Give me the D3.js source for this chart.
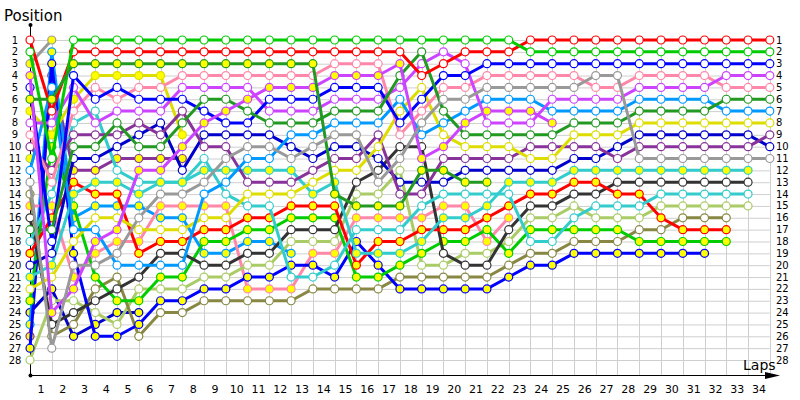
<!DOCTYPE html>
<html><head><meta charset="utf-8">
<script src="https://cdn.jsdelivr.net/npm/d3@7"></script>
<style>body{margin:0;background:#fff}svg{display:block}text{font-family:"DejaVu Sans",Verdana,sans-serif}</style>
</head><body><svg id="c" width="800" height="400"></svg>
<script>
const lapLabels = d3.range(1, 35);
const positionLabels = d3.range(1, 29);

// positions from lap 0 (start) onward
const redH    = [1,7,2,2,2,2,2,2,2,2,2,2,2,2,2,2,2,2,4,3,2,2,2,1,1,1,1,1,1,1,1,1,1,1,1];
const greenH  = [2,11,1,1,1,1,1,1,1,1,1,1,1,1,1,1,1,1,1,1,1,1,1,2,2,2,2,2,2,2,2,2,2,2,2];
const grayF   = [3,1];
const violetF = [4,24,22,18,17,12,12,10,8,7,6,5,5,5,4,4,4,3,11,10,8,7,7,7,8];
const blueH   = [5,18,4,6,5,6,6,6,7,8,8,6,6,6,5,5,5,8,6,4,4,3,3,3,3,3,3,3,3,3,3,3,3,3,3];
const dgreenF = [6,6,3,3,3,3,3,3,3,3,3,3,3,3,14,15,15,15,12,12,13,13];
const yellowF = [7,9,6,4,4,4,4,9];
const violetH = [8,8,5,8,7,7,7,5,5,5,5,7,7,7,6,6,6,5,3,2,3,8,8,8,6,6,6,6,5,5,5,5,4,4,4];
const pinkH   = [9,13,7,5,6,5,5,4,4,4,4,4,4,4,3,3,3,9,7,5,5,4,4,4,4,4,5,5,4,4,4,4,5,5,5];
const plumH   = [10,12,9,9,9,8,9,7,10,10,13,13,13,12,11,11,9,14,14,11,11,11,11,10,10,10,10,11,10,10,10,10,10,10,9];
const lgreenF = [11];
const azureH  = [12,5,17,17,20,20,20,20,14,13,11,11,9,9,8,8,8,6,9,8,7,6,6,6,7,7,7,7,6,6,6,6,7,7,7];
const grayH   = [13,27,20,20,19,16,14,14,13,11,10,10,11,10,9,9,13,11,8,6,6,5,5,5,5,5,4,4,11,11,11,11,11,11,11];
const oliveH  = [14,26,25,22,21,26,24,24,23,23,23,23,23,22,22,22,22,21,21,21,21,21,20,19,19,18,18,18,17,17,16,16,16];
const pinkF   = [15,15,21,19,18,18,15,15,15,15,22,22,22,19,19,16,16,16,16,15,15,18,16];
const blackH  = [16,25,24,23,22,21,19,19,20,20,19,19,17,17,17,13,12,10,10,19,20,20,17,15,15,14,14,13,13,13,13,13,13,13];
const dgreenH = [17,17,10,10,8,10,10,8,6,6,7,8,8,8,7,7,7,4,2,7,9,9,9,9,9,8,8,8,7,7,7,7,6,6,6];
const turqH   = [18,14,8,7,12,13,13,13,11,14,15,15,21,21,20,17,17,17,15,14,14,14,14,18,18,16,15,15,15,14,14,14,14,14];
const redF    = [19,16,13,14,14,19,18,18,17,17,16,16,15,15,15,20,18,18,17,17,17,16,15,14,14,13,13,14,14,16,17,17,17];
const navyH   = [20,19,11,11,10,9,8,12,9,9,9,9,10,11,10,10,11,13,13,13,12,12,12,12,12,11,11,10,9,9,9,9,9,9,10];
const turqF   = [21,20,14,13,13,14,13,13,12,12,12,12,12,14,13,19,19,19,18,16,16,15,13,13,13,12,12,12,12,12,12,12,12,12];
const yellowH = [22,21,18,16,16,17,17,17,16,16,14,14,14,13,12,12,10,7,5,9,10,10,10,11,11,9,9,9,8,8,8,8,8,8,8];
const greenF  = [23,10,15,21,23,23,21,21,18,18,17,17,16,16,16,21,21,20,19,18,18,17,19,17,17,17,17,17,18,18,18,18,18];
const navyF   = [24,22,26,25,24,24];
const azureF  = [25,2,16,15,15,15,16,16,19,19,18,18,19];
const plumF   = [26,4,12,12,11,11,11,11];
const blueF   = [27,3,19,26,26,25,23,23,22,22,21,21,20,20,21,18,20,22,22,22,22,22,21,20,20,19,19,19,19,19,19,19];
const lgreenH = [28,23,23,24,25,22,22,22,21,21,20,20,18,18,18,14,14,12,20,20,19,19,18,16,16,15,16,16,16,15,15,15,15,15];

// drawing order (later = on top)
const series = [
  {d: lgreenF, c: "#aacc66", f: true},
  {d: grayF,   c: "#999999", f: true},
  {d: plumF,   c: "#883399", f: true},
  {d: navyF,   c: "#0000cc", f: true},
  {d: azureF,  c: "#0099ff", f: true},
  {d: yellowF, c: "#dddd00", f: true},
  {d: pinkF,   c: "#ff88aa", f: true},
  {d: lgreenH, c: "#aacc66", f: false},
  {d: oliveH,  c: "#888844", f: false},
  {d: blueF,   c: "#0000ff", f: true},
  {d: greenF,  c: "#00cc00", f: true},
  {d: blackH,  c: "#333333", f: false},
  {d: redF,    c: "#ff0000", f: true},
  {d: turqH,   c: "#33cccc", f: false},
  {d: turqF,   c: "#33cccc", f: true},
  {d: navyH,   c: "#0000cc", f: false},
  {d: plumH,   c: "#883399", f: false},
  {d: yellowH, c: "#dddd00", f: false},
  {d: azureH,  c: "#0099ff", f: false},
  {d: pinkH,   c: "#ff88aa", f: false},
  {d: violetH, c: "#cc44ff", f: false},
  {d: blueH,   c: "#0000ff", f: false},
  {d: dgreenH, c: "#229922", f: false},
  {d: redH,    c: "#ff0000", f: false},
  {d: greenH,  c: "#00cc00", f: false},
  {d: violetF, c: "#cc44ff", f: true},
  {d: dgreenF, c: "#229922", f: true},
  {d: grayH,   c: "#999999", f: false}
];

const svg = d3.select("#c");
const x = d3.scaleLinear().domain([0, 34]).range([30, 769.8]);
const y = d3.scaleLinear().domain([1, 28]).range([40, 360]);
const axisY = 375;

// grid
const grid = svg.append("g").attr("stroke", "#cfcfcf").attr("stroke-width", 1);
grid.selectAll("line.h").data(positionLabels).join("line")
  .attr("x1", x(0)).attr("x2", x(34)).attr("y1", d => y(d) + 0.5).attr("y2", d => y(d) + 0.5);
grid.selectAll("line.v").data(lapLabels).join("line")
  .attr("x1", d => Math.round(x(d)) + 0.5).attr("x2", d => Math.round(x(d)) + 0.5)
  .attr("y1", y(1)).attr("y2", axisY);

// axes
svg.append("line").attr("x1", 30.5).attr("x2", 30.5).attr("y1", 25).attr("y2", axisY).attr("stroke", "#000");
svg.append("line").attr("x1", 30).attr("x2", 772).attr("y1", axisY + 0.5).attr("y2", axisY + 0.5).attr("stroke", "#000");
svg.append("circle").attr("cx", 30.5).attr("cy", 25).attr("r", 2).attr("fill", "#000");
svg.append("circle").attr("cx", 30.5).attr("cy", axisY + 0.5).attr("r", 2).attr("fill", "#000");
svg.append("path").attr("d", `M765,${axisY - 3}L780,${axisY + 0.5}L765,${axisY + 4}Z`).attr("fill", "#000");

// labels
svg.append("text").attr("x", 4).attr("y", 21).attr("font-size", 15).text("Position");
svg.append("text").attr("x", 743).attr("y", 370).attr("font-size", 14).text("Laps");
svg.append("g").selectAll("text").data(positionLabels).join("text")
  .attr("x", 15).attr("y", d => y(d) + 3.5).attr("text-anchor", "middle").attr("font-size", 10).text(d => d);
svg.append("g").selectAll("text").data(positionLabels).join("text")
  .attr("x", 776).attr("y", d => y(d) + 3.5).attr("font-size", 10).text(d => d);
svg.append("g").selectAll("text").data(lapLabels).join("text")
  .attr("x", d => (x(d - 1) + x(d)) / 2).attr("y", 393).attr("text-anchor", "middle").attr("font-size", 11).text(d => d);

// series
const line = d3.line().x((d, i) => x(i)).y(d => y(d));
series.forEach(s => {
  const g = svg.append("g");
  g.append("path").attr("d", line(s.d)).attr("fill", "none").attr("stroke", s.c)
    .attr("stroke-width", 3).attr("stroke-linejoin", "round");
  g.selectAll("circle").data(s.d).join("circle")
    .attr("cx", (d, i) => x(i)).attr("cy", d => y(d)).attr("r", 4)
    .attr("fill", s.f ? "#ffff00" : "#fff").attr("stroke", s.c).attr("stroke-width", 1.2);
});
</script></body></html>
